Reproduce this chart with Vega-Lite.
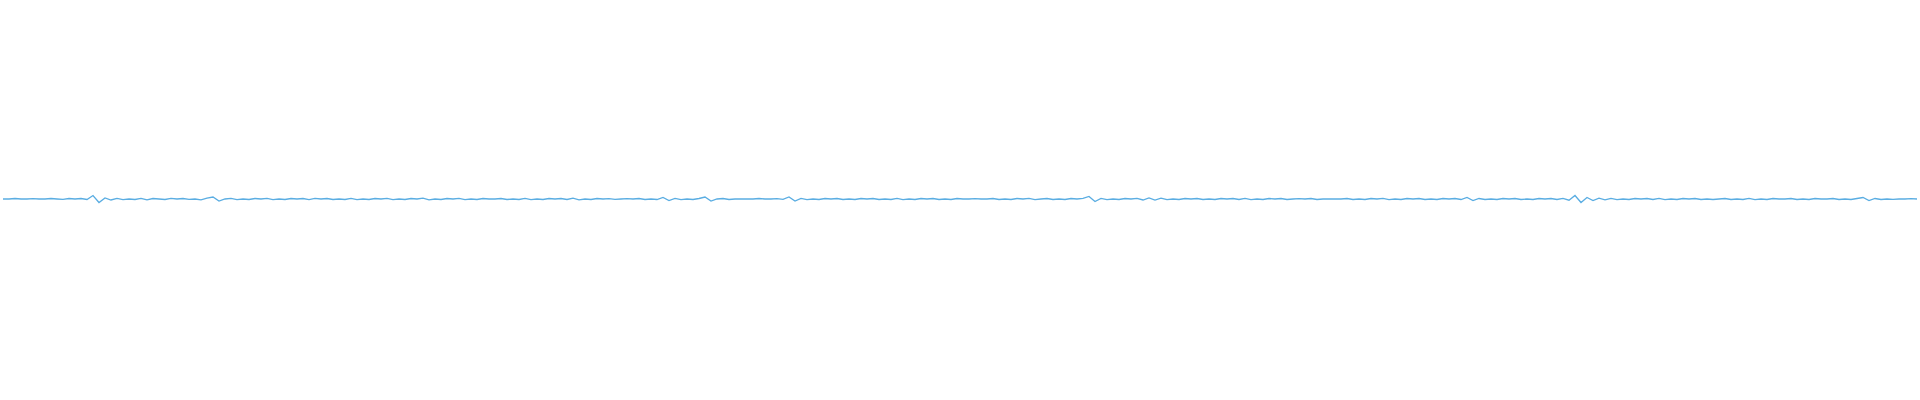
{
  "$schema": "https://vega.github.io/schema/vega-lite/v6.json",
  "autosize": {"type": "fit", "contains": "padding"},
  "width": 1920,
  "height": 400,
  "padding": 0,
  "background": "white",
  "config": {"view": {"stroke": null}},
  "data": {"values": [
{"t":0,"a":0},{"t":1,"a":0},{"t":2,"a":0.5},{"t":3,"a":0},{"t":4,"a":0},{"t":5,"a":0.4},{"t":6,"a":0},{"t":7,"a":0},{"t":8,"a":0.5},{"t":9,"a":0},
{"t":10,"a":-0.4},{"t":11,"a":0.5},{"t":12,"a":0},{"t":13,"a":0.5},{"t":14,"a":-0.5},{"t":15,"a":3.5},{"t":16,"a":-3.5},{"t":17,"a":1},{"t":18,"a":-1},{"t":19,"a":0.6},
{"t":20,"a":-0.6},{"t":21,"a":0},{"t":22,"a":-0.5},{"t":23,"a":0.6},{"t":24,"a":-0.8},{"t":25,"a":0.5},{"t":26,"a":0},{"t":27,"a":-0.5},{"t":28,"a":0.6},{"t":29,"a":0},
{"t":30,"a":0.5},{"t":31,"a":-0.4},{"t":32,"a":0},{"t":33,"a":-0.8},{"t":34,"a":0.8},{"t":35,"a":2},{"t":36,"a":-2},{"t":37,"a":0},{"t":38,"a":0.6},{"t":39,"a":-0.6},
{"t":40,"a":0},{"t":41,"a":-0.5},{"t":42,"a":0.5},{"t":43,"a":0},{"t":44,"a":0.6},{"t":45,"a":-0.6},{"t":46,"a":0},{"t":47,"a":-0.5},{"t":48,"a":0.5},{"t":49,"a":0},
{"t":50,"a":0.5},{"t":51,"a":-0.6},{"t":52,"a":0.6},{"t":53,"a":0},{"t":54,"a":0.5},{"t":55,"a":-0.5},{"t":56,"a":0},{"t":57,"a":-0.5},{"t":58,"a":0.6},{"t":59,"a":-0.6},
{"t":60,"a":0},{"t":61,"a":-0.5},{"t":62,"a":0.5},{"t":63,"a":0},{"t":64,"a":0.6},{"t":65,"a":-0.6},{"t":66,"a":0},{"t":67,"a":-0.5},{"t":68,"a":0.5},{"t":69,"a":0},
{"t":70,"a":0.8},{"t":71,"a":-0.8},{"t":72,"a":0},{"t":73,"a":-0.5},{"t":74,"a":0.5},{"t":75,"a":0},{"t":76,"a":0.6},{"t":77,"a":-0.6},{"t":78,"a":0},{"t":79,"a":-0.5},
{"t":80,"a":0.5},{"t":81,"a":0},{"t":82,"a":0},{"t":83,"a":0.5},{"t":84,"a":-0.5},{"t":85,"a":0},{"t":86,"a":-0.5},{"t":87,"a":0.6},{"t":88,"a":-0.6},{"t":89,"a":0},
{"t":90,"a":-0.5},{"t":91,"a":0.5},{"t":92,"a":0},{"t":93,"a":0.5},{"t":94,"a":-0.5},{"t":95,"a":0.8},{"t":96,"a":-0.8},{"t":97,"a":0},{"t":98,"a":-0.5},{"t":99,"a":0.5},
{"t":100,"a":0},{"t":101,"a":0.4},{"t":102,"a":-0.4},{"t":103,"a":0},{"t":104,"a":0.4},{"t":105,"a":0},{"t":106,"a":0.5},{"t":107,"a":-0.5},{"t":108,"a":0},{"t":109,"a":-0.5},
{"t":110,"a":1.5},{"t":111,"a":-1.5},{"t":112,"a":0.6},{"t":113,"a":-0.6},{"t":114,"a":0},{"t":115,"a":-0.5},{"t":116,"a":0.5},{"t":117,"a":2},{"t":118,"a":-2},{"t":119,"a":0},
{"t":120,"a":0.5},{"t":121,"a":-0.5},{"t":122,"a":0},{"t":123,"a":0},{"t":124,"a":0},{"t":125,"a":0},{"t":126,"a":0.5},{"t":127,"a":0},{"t":128,"a":0},{"t":129,"a":0.4},
{"t":130,"a":-0.4},{"t":131,"a":2},{"t":132,"a":-2},{"t":133,"a":0.6},{"t":134,"a":-0.6},{"t":135,"a":0},{"t":136,"a":-0.5},{"t":137,"a":0.5},{"t":138,"a":0},{"t":139,"a":0.5},
{"t":140,"a":-0.5},{"t":141,"a":0},{"t":142,"a":-0.5},{"t":143,"a":0.5},{"t":144,"a":0},{"t":145,"a":0.5},{"t":146,"a":-0.5},{"t":147,"a":0},{"t":148,"a":-0.5},{"t":149,"a":0.6},
{"t":150,"a":-0.6},{"t":151,"a":0},{"t":152,"a":-0.5},{"t":153,"a":0.5},{"t":154,"a":0},{"t":155,"a":0.5},{"t":156,"a":-0.5},{"t":157,"a":0},{"t":158,"a":-0.5},{"t":159,"a":0.5},
{"t":160,"a":0},{"t":161,"a":0},{"t":162,"a":0.4},{"t":163,"a":0},{"t":164,"a":0},{"t":165,"a":0.5},{"t":166,"a":-0.5},{"t":167,"a":0},{"t":168,"a":-0.5},{"t":169,"a":0.5},
{"t":170,"a":0},{"t":171,"a":0.6},{"t":172,"a":-0.6},{"t":173,"a":0},{"t":174,"a":0.5},{"t":175,"a":-0.5},{"t":176,"a":0},{"t":177,"a":-0.5},{"t":178,"a":0.5},{"t":179,"a":0},
{"t":180,"a":0.6},{"t":181,"a":2.5},{"t":182,"a":-2.5},{"t":183,"a":0.6},{"t":184,"a":-0.6},{"t":185,"a":0},{"t":186,"a":-0.5},{"t":187,"a":0.5},{"t":188,"a":0},{"t":189,"a":0.6},
{"t":190,"a":-1},{"t":191,"a":1},{"t":192,"a":-1},{"t":193,"a":0.8},{"t":194,"a":-0.6},{"t":195,"a":0},{"t":196,"a":-0.5},{"t":197,"a":0.5},{"t":198,"a":0},{"t":199,"a":0.5},
{"t":200,"a":-0.5},{"t":201,"a":0},{"t":202,"a":-0.5},{"t":203,"a":0.5},{"t":204,"a":0},{"t":205,"a":0.5},{"t":206,"a":-0.5},{"t":207,"a":0.6},{"t":208,"a":-0.6},{"t":209,"a":0},
{"t":210,"a":-0.5},{"t":211,"a":0.5},{"t":212,"a":0},{"t":213,"a":0.5},{"t":214,"a":-0.5},{"t":215,"a":0},{"t":216,"a":0.4},{"t":217,"a":0},{"t":218,"a":0.5},{"t":219,"a":-0.5},
{"t":220,"a":0},{"t":221,"a":0},{"t":222,"a":0},{"t":223,"a":0},{"t":224,"a":0.5},{"t":225,"a":-0.5},{"t":226,"a":0},{"t":227,"a":-0.5},{"t":228,"a":0.5},{"t":229,"a":0},
{"t":230,"a":0.6},{"t":231,"a":-0.6},{"t":232,"a":0},{"t":233,"a":-0.5},{"t":234,"a":0.5},{"t":235,"a":0},{"t":236,"a":0.5},{"t":237,"a":-0.5},{"t":238,"a":0},{"t":239,"a":-0.5},
{"t":240,"a":0.5},{"t":241,"a":0},{"t":242,"a":0.5},{"t":243,"a":-0.5},{"t":244,"a":1.5},{"t":245,"a":-1.5},{"t":246,"a":0.5},{"t":247,"a":-0.5},{"t":248,"a":0},{"t":249,"a":-0.5},
{"t":250,"a":0.5},{"t":251,"a":0},{"t":252,"a":0.5},{"t":253,"a":-0.5},{"t":254,"a":0},{"t":255,"a":-0.5},{"t":256,"a":0.5},{"t":257,"a":0},{"t":258,"a":0.5},{"t":259,"a":-0.5},
{"t":260,"a":0.6},{"t":261,"a":-1.2},{"t":262,"a":3.5},{"t":263,"a":-3.5},{"t":264,"a":1.5},{"t":265,"a":-1.5},{"t":266,"a":0.8},{"t":267,"a":-0.8},{"t":268,"a":0.6},{"t":269,"a":-0.6},
{"t":270,"a":0},{"t":271,"a":-0.5},{"t":272,"a":0.5},{"t":273,"a":0},{"t":274,"a":0.5},{"t":275,"a":-0.5},{"t":276,"a":0.6},{"t":277,"a":-0.6},{"t":278,"a":0},{"t":279,"a":-0.5},
{"t":280,"a":0.5},{"t":281,"a":0},{"t":282,"a":0.5},{"t":283,"a":-0.5},{"t":284,"a":0},{"t":285,"a":-0.5},{"t":286,"a":0},{"t":287,"a":0.5},{"t":288,"a":-0.5},{"t":289,"a":0},
{"t":290,"a":-0.5},{"t":291,"a":0.6},{"t":292,"a":-0.6},{"t":293,"a":0},{"t":294,"a":-0.5},{"t":295,"a":0.5},{"t":296,"a":0},{"t":297,"a":0},{"t":298,"a":0.5},{"t":299,"a":-0.5},
{"t":300,"a":0},{"t":301,"a":-0.5},{"t":302,"a":0.5},{"t":303,"a":0},{"t":304,"a":0},{"t":305,"a":0.5},{"t":306,"a":-0.5},{"t":307,"a":0},{"t":308,"a":-0.5},{"t":309,"a":0.5},
{"t":310,"a":1.5},{"t":311,"a":-1.5},{"t":312,"a":0.5},{"t":313,"a":-0.5},{"t":314,"a":0},{"t":315,"a":-0.4},{"t":316,"a":0},{"t":317,"a":0},{"t":318,"a":0.4},{"t":319,"a":0}
  ]},
  "mark": {"type": "line", "color": "#5aade2", "strokeWidth": 1.3, "interpolate": "linear"},
  "encoding": {
    "x": {"field": "t", "type": "quantitative", "scale": {"domain": [0, 319], "nice": false, "zero": false}, "axis": null},
    "y": {"field": "a", "type": "quantitative", "scale": {"domain": [-201, 199], "nice": false, "zero": false}, "axis": null}
  }
}
